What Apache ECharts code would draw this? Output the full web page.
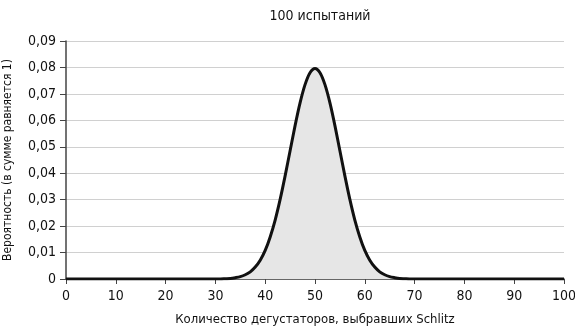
<!DOCTYPE html>
<html>
<head>
<meta charset="utf-8">
<script src="https://cdn.jsdelivr.net/npm/echarts@6/dist/echarts.min.js"></script>
<style>
  html, body { margin: 0; padding: 0; background: #fff; }
  #chart { width: 575px; height: 330px; }
</style>
</head>
<body>
<div id="chart"></div>
<script>
// число дегустаторов (0..100) и вероятности
const counts = [];
for (let k = 0; k <= 100; k++) counts.push(k);
const probLeft = [ // k = 0..49
  0, 0, 0, 0, 0, 0, 0, 0, 0, 0,
  0, 0, 0, 0, 0, 0, 0, 0, 0, 0,
  0, 0, 0, 0, 0, 0, 0, 0, 0, 0,
  0, 0, 0.0001, 0.0002, 0.0005, 0.0009, 0.0016, 0.0027, 0.0045, 0.0071,
  0.0108, 0.0159, 0.0223, 0.0301, 0.0390, 0.0485, 0.0580, 0.0666, 0.0735, 0.0780
];
const probPeak = [0.0796]; // k = 50
const probRight = [ // k = 51..100
  0.0780, 0.0735, 0.0666, 0.0580, 0.0485, 0.0390, 0.0301, 0.0223, 0.0159, 0.0108,
  0.0071, 0.0045, 0.0027, 0.0016, 0.0009, 0.0005, 0.0002, 0.0001, 0, 0,
  0, 0, 0, 0, 0, 0, 0, 0, 0, 0,
  0, 0, 0, 0, 0, 0, 0, 0, 0, 0,
  0, 0, 0, 0, 0, 0, 0, 0, 0, 0
];
const probs = probLeft.concat(probPeak, probRight);
const yTicks = [0, 0.01, 0.02, 0.03, 0.04, 0.05, 0.06, 0.07, 0.08, 0.09];

const font = '"DejaVu Sans Condensed", "Liberation Sans Narrow", sans-serif';
const chart = echarts.init(document.getElementById("chart"));
chart.setOption({
  animation: false,
  title: {
    text: "100 испытаний",
    left: 315,
    textAlign: "center",
    top: 4,
    textStyle: { fontFamily: font, fontSize: 14, fontWeight: "normal", color: "#111" },
  },
  grid: { left: 66, right: 11, top: 41, bottom: 51, containLabel: false, outerBoundsMode: "none" },
  xAxis: {
    type: "value",
    min: 0,
    max: 100,
    interval: 10,
    name: "Количество дегустаторов, выбравших Schlitz",
    nameLocation: "middle",
    nameGap: 34,
    nameTextStyle: { fontFamily: font, fontSize: 13, color: "#111" },
    axisLine: { show: true, lineStyle: { color: "#444", width: 1.5 } },
    axisTick: { show: true, length: 5, lineStyle: { color: "#444" } },
    axisLabel: { fontFamily: font, fontSize: 14, color: "#111", margin: 10 },
    splitLine: { show: false },
  },
  yAxis: {
    type: "value",
    min: 0,
    max: 0.09,
    interval: 0.01,
    name: "Вероятность (в сумме равняется 1)",
    nameLocation: "middle",
    nameGap: 52,
    nameTextStyle: { fontFamily: font, fontSize: 12, color: "#111" },
    axisLine: { show: true, lineStyle: { color: "#444", width: 1.5 } },
    axisTick: { show: true, length: 6, lineStyle: { color: "#444" } },
    axisLabel: {
      fontFamily: font, fontSize: 14, color: "#111", margin: 10,
      formatter: (v) => {
        const t = yTicks.find((x) => Math.abs(x - v) < 1e-9);
        return t === 0 ? "0" : (t !== undefined ? t : v).toFixed(2).replace(".", ",");
      },
    },
    splitLine: { show: true, lineStyle: { color: "#d0d0d0", width: 1 } },
  },
  series: [
    {
      type: "line",
      data: counts.map((k, i) => [k, probs[i]]),
      smooth: 0.3,
      showSymbol: false,
      lineStyle: { color: "#111", width: 3 },
      areaStyle: { color: "#e6e6e6", opacity: 1 },
    },
  ],
});
</script>
</body>
</html>
